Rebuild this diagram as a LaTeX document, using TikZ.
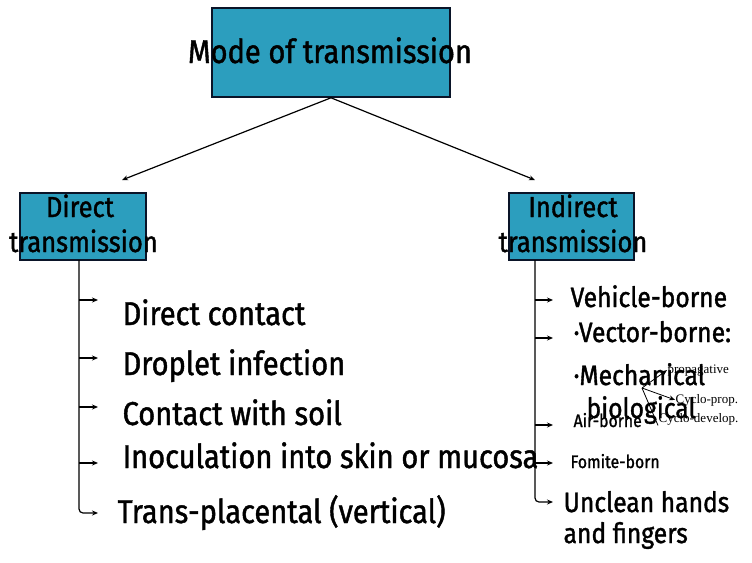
\documentclass[tikz,border=0pt]{standalone}
\usepackage{fontspec}
\setmainfont{Fira Sans}[FakeStretch=0.88,FakeBold=1.3]
\newfontfamily\labelserif{Liberation Serif}
\usetikzlibrary{arrows.meta}
\definecolor{boxteal}{RGB}{44,158,190}
\definecolor{boxedge}{RGB}{10,20,40}
\begin{document}
\begin{tikzpicture}[x=1pt,y=-1pt,>={Stealth[length=6pt,width=5pt]},line width=1.2pt]
    \tikzstyle{every node}=[inner sep=0pt]
    \tikzstyle{box}=[draw=boxedge,line width=1.6pt,fill=boxteal,rectangle]
    \tikzstyle{huge}=[font=\fontsize{33}{36}\selectfont,anchor=base west]
    \tikzstyle{big}=[font=\fontsize{28}{31}\selectfont,anchor=base west]
    \tikzstyle{boxtxt}=[font=\fontsize{29}{31}\selectfont,anchor=base]
    \tikzstyle{small}=[font=\fontsize{18}{20}\selectfont,anchor=base west]
    \tikzstyle{tiny}=[font=\labelserif\fontsize{13}{15}\selectfont,anchor=base west]
    \useasboundingbox (0,0) rectangle (752,562);
    %% Top box
    \node at (331,52.5) [box,minimum width=238pt,minimum height=89pt] (mode) {};
    \node at (330,63) [font=\fontsize{33}{36}\selectfont,anchor=base] (modetxt) {Mode of transmission};
    %% Direct
    \node at (83,226.5) [box,minimum width=126pt,minimum height=67pt] (direct) {};
    \node at (80,217) [boxtxt] (directa) {Direct};
    \node at (83.5,252) [boxtxt] (directb) {transmission};
    %% Indirect
    \node at (571.5,226.5) [box,minimum width=125pt,minimum height=67pt] (indirect) {};
    \node at (573,217) [boxtxt] (indirecta) {Indirect};
    \node at (573,252) [boxtxt] (indirectb) {transmission};
    \coordinate (dtip) at (122,180);
    \coordinate (itip) at (535,180);
    \draw[->] (mode.south) -- (dtip);
    \draw[->] (mode.south) -- (itip);

    % direct list
    \coordinate (dtop) at (79,260);
    \draw[->,rounded corners=4pt] (dtop) |- (98,513);
    \foreach \y in {300,358,407,463}
        \draw[->] (dtop |- 0,\y) -- ++(19,0);
    \node at (122,325) [huge] (contact) {Direct contact};
    \node at (122,375) [huge] (droplet) {Droplet infection};
    \node at (122,425) [huge] (soil) {Contact with soil};
    \node at (122,468) [huge] (inoc) {Inoculation into skin or mucosa};
    \node at (117,523) [huge] (transpl) {Trans-placental (vertical)};

    % indirect list
    \coordinate (itop) at (535,260);
    \draw[->,rounded corners=4pt] (itop) |- (553,502);
    \foreach \y in {300,338,425,463}
        \draw[->] (itop |- 0,\y) -- ++(18,0);
    \node at (570,307) [big] (vehicle) {Vehicle-borne};
    \node at (573,342) [big] (vector) {·Vector-borne:};
    \node at (573,427) [small] (air) {Air-borne};
    \node at (573,385) [big] (mech) {·Mechanical};
    \node at (586,418) [big] (bio) {biological};
    \node at (570,468) [small] (fomite) {Fomite-born};
    \node at (563,512) [big] (unclean) {Unclean hands};
    \node at (563,543) [big] (fingers) {and fingers};
    % biological sub-types
    \node at (667,373) [tiny] (propag) {propagative};
    \node at (675,403) [tiny] (cprop) {Cyclo-prop.};
    \node at (658,422) [tiny] (cdevel) {Cyclo-develop.};
    \coordinate (fork) at (642,388);
    \draw[->,line width=0.8pt] (fork) -- (propag.west);
    \draw[->,line width=0.8pt] (fork) -- (cprop.west);
    \draw[line width=0.8pt] (fork) -- (cdevel.south west);
\end{tikzpicture}
\end{document}
